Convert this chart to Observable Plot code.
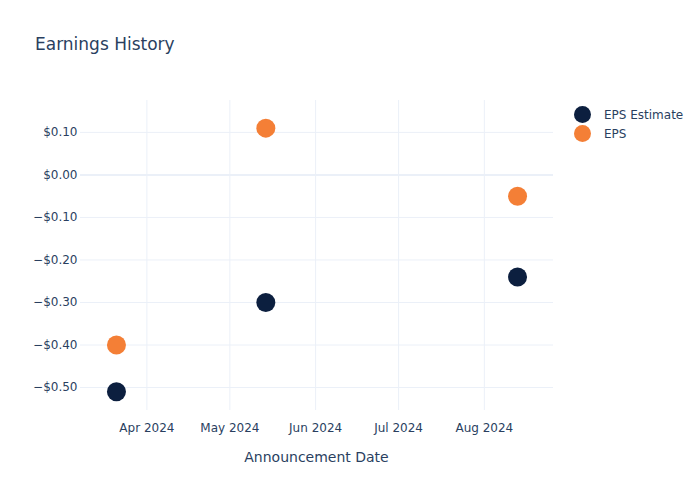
<!DOCTYPE html>
<html>
<head>
<meta charset="utf-8">
<script src="https://cdn.jsdelivr.net/npm/d3@7"></script>
<script src="https://cdn.jsdelivr.net/npm/@observablehq/plot@0.6"></script>
<style>
  html, body { margin: 0; padding: 0; background: #fff; }
  #wrap { position: relative; width: 700px; height: 500px; font-family: "DejaVu Sans", sans-serif; color: #2a3f5f; }
  #title { position: absolute; left: 35px; top: 34px; font-size: 17px; }
  #xlabel { position: absolute; left: 80px; width: 473px; top: 449px; text-align: center; font-size: 14px; }
  .leg { position: absolute; left: 574px; font-size: 12px; display: flex; align-items: center; }
  .leg span.dot { display: inline-block; width: 17px; height: 17px; border-radius: 50%; margin-right: 13px; }
</style>
</head>
<body>
<div id="wrap">
  <div id="title">Earnings History</div>
  <div id="xlabel">Announcement Date</div>
  <div class="leg" style="top:106px"><span class="dot" style="background:#0c1f3f"></span>EPS Estimate</div>
  <div class="leg" style="top:125px"><span class="dot" style="background:#f47f36"></span>EPS</div>
</div>
<script>
const dates = ["2024-03-21", "2024-05-14", "2024-08-13"];
const epsEstimate = [-0.51, -0.30, -0.24];
const eps = [-0.40, 0.11, -0.05];
const seriesNames = ["EPS Estimate", "EPS"];
const seriesColors = ["#0c1f3f", "#f47f36"];

const rows = [];
dates.forEach((d, i) => rows.push({date: new Date(d), value: epsEstimate[i], series: seriesNames[0]}));
dates.forEach((d, i) => rows.push({date: new Date(d), value: eps[i], series: seriesNames[1]}));

const grid = "#EBF0F8";
const chart = Plot.plot({
  width: 700,
  height: 500,
  marginLeft: 80,
  marginRight: 147,
  marginTop: 100,
  marginBottom: 90,
  style: {fontFamily: "DejaVu Sans, sans-serif", color: "#2a3f5f", background: "transparent"},
  x: {type: "utc", domain: [new Date("2024-03-08"), new Date("2024-08-26")]},
  y: {domain: [-0.554, 0.175]},
  color: {domain: seriesNames, range: seriesColors},
  marks: [
    Plot.gridX({ticks: d3.utcMonth.every(1), stroke: grid, strokeOpacity: 1}),
    Plot.gridY({ticks: d3.range(-0.5, 0.11, 0.1), stroke: grid, strokeOpacity: 1}),
    Plot.ruleY([0], {stroke: grid, strokeWidth: 2}),
    Plot.axisX({ticks: d3.utcMonth.every(1), tickFormat: d3.utcFormat("%b %Y"), tickSize: 0, tickPadding: 13, fontSize: 12, label: null, fill: "#2a3f5f"}),
    Plot.axisY({ticks: d3.range(-0.5, 0.11, 0.1), tickFormat: d3.format("$.2f"), tickSize: 0, tickPadding: 3, fontSize: 12, label: null, fill: "#2a3f5f"}),
    Plot.dot(rows, {x: "date", y: "value", fill: "series", r: 9.5, stroke: "none"})
  ]
});
chart.style.position = "absolute";
chart.style.left = "0px";
chart.style.top = "0px";
const wrap = document.getElementById("wrap");
wrap.insertBefore(chart, wrap.firstChild);
</script>
</body>
</html>
